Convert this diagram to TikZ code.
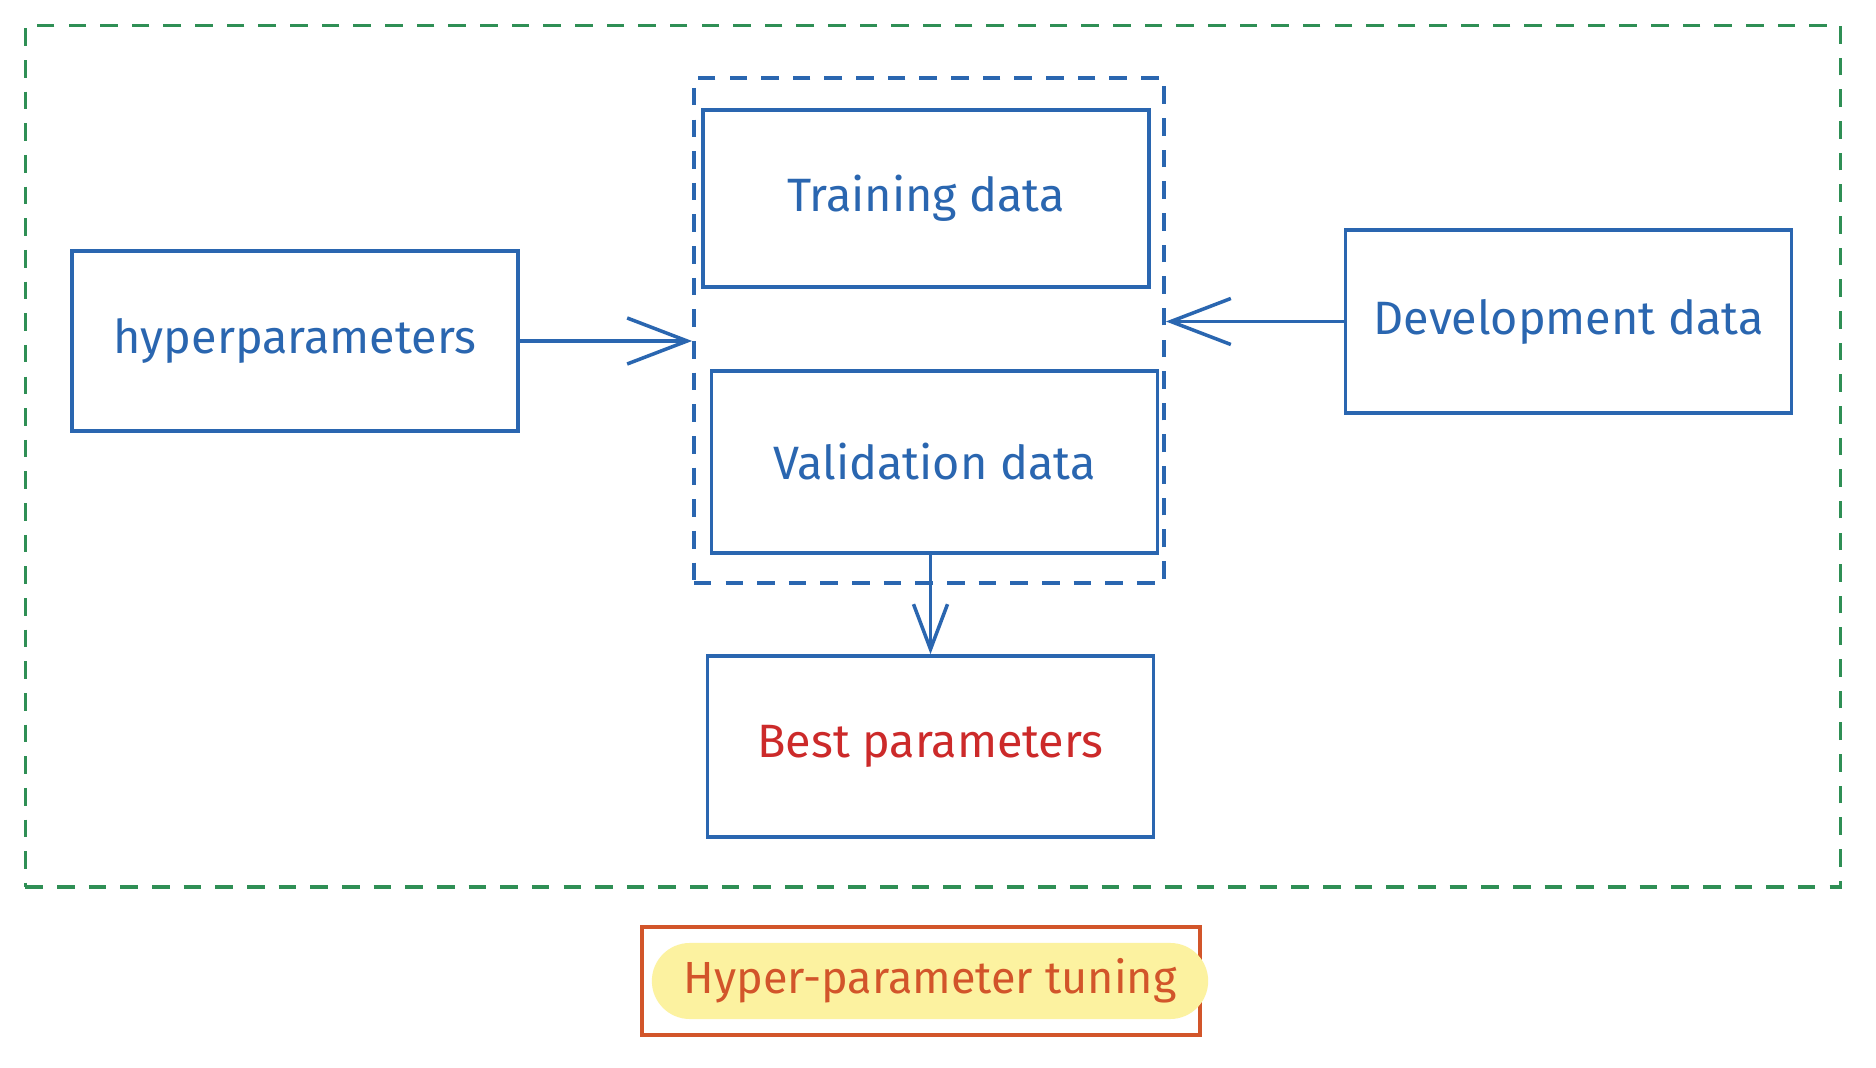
\documentclass[tikz,border=0pt]{standalone}
\usepackage{fontspec}
\setmainfont{Fira Sans}
\usetikzlibrary{arrows.meta}
\definecolor{eblue}{HTML}{2A66B0}
\definecolor{egreen}{HTML}{2F8F55}
\definecolor{ered}{HTML}{CC2A2A}
\definecolor{eorange}{HTML}{D2552A}
\definecolor{eyellow}{HTML}{FCF2A0}
\begin{document}
\begin{tikzpicture}[x=0.01cm,y=-0.01cm,
  box/.style={draw=eblue, line width=1pt, text=eblue, inner sep=0pt,
    minimum width=4.46cm, minimum height=1.80cm, font=\fontsize{13.3}{15}\selectfont},
  grpbox/.style={draw=eblue, line width=1pt, dash pattern=on 5pt off 4pt, inner sep=0pt},
  outerbox/.style={draw=egreen, line width=1pt, dash pattern=on 5pt off 4pt},
  arr/.style={draw=eblue, line width=1pt, -{Straight Barb[length=0.6cm,width=0.46cm,line width=1pt]}},
  arrs/.style={draw=eblue, line width=1pt, -{Straight Barb[length=0.45cm,width=0.34cm,line width=1pt]}}]
\useasboundingbox (0,0) rectangle (1876,1068);
\fill[white] (0,0) rectangle (1876,1068);
\node (outer) [outerbox, minimum width=18.14cm, minimum height=8.61cm] at (933,456.5) {};
\node (grp) [grpbox, minimum width=4.70cm, minimum height=5.05cm] at (929,330.5) {};
\node (train) [box, minimum height=1.77cm] at (926,198.5) {Training data};
\node (val) [box, minimum height=1.82cm] at (934.5,462) {Validation data};
\node (hyp) [box] at (295,341) {hyperparameters};
\node (dev) [box, minimum height=1.83cm] at (1568.5,321.5) {Development data};
\node (best) [box, text=ered, minimum height=1.81cm] at (930.5,746.5) {Best parameters};
\node (tunebox) [draw=eorange, line width=1pt, minimum width=5.58cm, minimum height=1.08cm, inner sep=0pt] at (921,981) {};
\node (tune) [fill=eyellow, rounded corners=0.38cm, minimum width=5.56cm, minimum height=0.76cm, inner sep=0pt,
  text=eorange, font=\fontsize{12.8}{15}\selectfont] at (930,981) {Hyper-parameter tuning};
\draw[arr] (hyp.east) -- (grp.west |- hyp.east);
\draw[arr] (dev.west) -- (grp.east |- dev.west);
\draw[arrs] (val.south -| best.north) -- (best.north);
\end{tikzpicture}
\end{document}
